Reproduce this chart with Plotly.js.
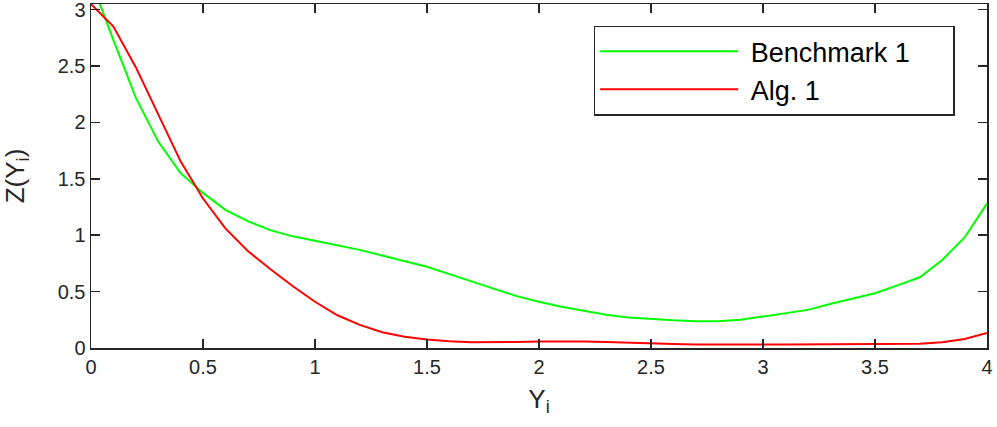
<!DOCTYPE html>
<html>
<head>
<meta charset="utf-8">
<script src="https://cdn.plot.ly/plotly-3.0.1.min.js"></script>
<style>
  html, body { margin: 0; padding: 0; background: #fff; }
  #chart { width: 997px; height: 427px; }
</style>
</head>
<body>
<div id="chart"></div>
<script>
// sample points along Y_i
const yi = [0, 0.1, 0.2, 0.3, 0.4, 0.5, 0.6, 0.7, 0.8, 0.9,
            1.0, 1.1, 1.2, 1.3, 1.4, 1.5, 1.6, 1.7, 1.8, 1.9,
            2.0, 2.1, 2.2, 2.3, 2.4, 2.5, 2.6, 2.7, 2.8, 2.9,
            3.0, 3.1, 3.2, 3.3, 3.4, 3.5, 3.6, 3.7, 3.8, 3.9, 4.0];

// Benchmark 1 (green)
const benchmark1 = [3.26, 2.73, 2.22, 1.83, 1.55, 1.375, 1.225, 1.125, 1.045, 0.99,
                    0.95, 0.91, 0.87, 0.82, 0.77, 0.72, 0.655, 0.59, 0.52, 0.46,
                    0.41, 0.365, 0.33, 0.295, 0.27, 0.255, 0.245, 0.237, 0.238, 0.25,
                    0.28, 0.31, 0.338, 0.39, 0.435, 0.486, 0.555, 0.627, 0.78, 0.98, 1.28];

// Alg. 1 (red)
const alg1 = [3.05, 2.85, 2.49, 2.07, 1.655, 1.325, 1.06, 0.86, 0.70, 0.55,
              0.41, 0.29, 0.205, 0.14, 0.10, 0.075, 0.06, 0.052, 0.05, 0.053,
              0.057, 0.06, 0.058, 0.053, 0.046, 0.04, 0.035, 0.032, 0.03, 0.03,
              0.03, 0.031, 0.032, 0.032, 0.032, 0.032, 0.033, 0.038, 0.05, 0.08, 0.133];

const seriesNames = ['Benchmark 1', 'Alg. 1'];

const xTicks = [0, 0.5, 1, 1.5, 2, 2.5, 3, 3.5, 4];
const yTicks = [0, 0.5, 1, 1.5, 2, 2.5, 3];

const axisColor = '#262626';
const fontFamily = '"Liberation Sans", Arial, Helvetica, sans-serif';

// pad legend labels so the box gets the same roomy look as the original
const pad = s => '\u00a0' + s + '\u00a0\u00a0\u00a0\u00a0\u00a0';

const traces = [
    {
        x: yi, y: benchmark1, name: pad(seriesNames[0]),
        mode: 'lines', type: 'scatter',
        line: { color: '#00ff00', width: 2 }
    },
    {
        x: yi, y: alg1, name: pad(seriesNames[1]),
        mode: 'lines', type: 'scatter',
        line: { color: '#ff0000', width: 2 }
    }
];

const layout = {
    width: 997,
    height: 427,
    margin: { l: 91, r: 10, t: 4, b: 79 },
    paper_bgcolor: '#fff',
    plot_bgcolor: '#fff',
    font: { family: fontFamily, color: axisColor, size: 20 },
    showlegend: true,
    legend: {
        x: 0.561, y: 0.937, xanchor: 'left', yanchor: 'top',
        bgcolor: '#fff',
        bordercolor: axisColor,
        borderwidth: 1.5,
        itemwidth: 138,
        font: { family: fontFamily, size: 27, color: '#000' }
    },
    xaxis: {
        range: [0, 4],
        tickvals: xTicks,
        ticktext: xTicks.map(String),
        ticks: 'inside', ticklen: 9, tickwidth: 1.5, tickcolor: axisColor,
        showline: true, linecolor: axisColor, linewidth: 1.5, mirror: 'ticks',
        showgrid: false, zeroline: false,
        ticklabeloverflow: 'allow',
        tickfont: { size: 20, color: axisColor },
        title: { text: 'Y<sub>i</sub>', font: { size: 26, color: axisColor }, standoff: 13 }
    },
    yaxis: {
        range: [0, 3.05],
        tickvals: yTicks,
        ticktext: yTicks.map(String),
        ticks: 'inside', ticklen: 9, tickwidth: 1.5, tickcolor: axisColor,
        showline: true, linecolor: axisColor, linewidth: 1.5, mirror: 'ticks',
        showgrid: false, zeroline: false,
        ticklabeloverflow: 'allow',
        tickfont: { size: 20, color: axisColor },
        title: { text: 'Z(Y<sub>i</sub>)', font: { size: 26, color: axisColor }, standoff: 33 }
    }
};

Plotly.newPlot('chart', traces, layout, { displayModeBar: false, staticPlot: true });
</script>
</body>
</html>
